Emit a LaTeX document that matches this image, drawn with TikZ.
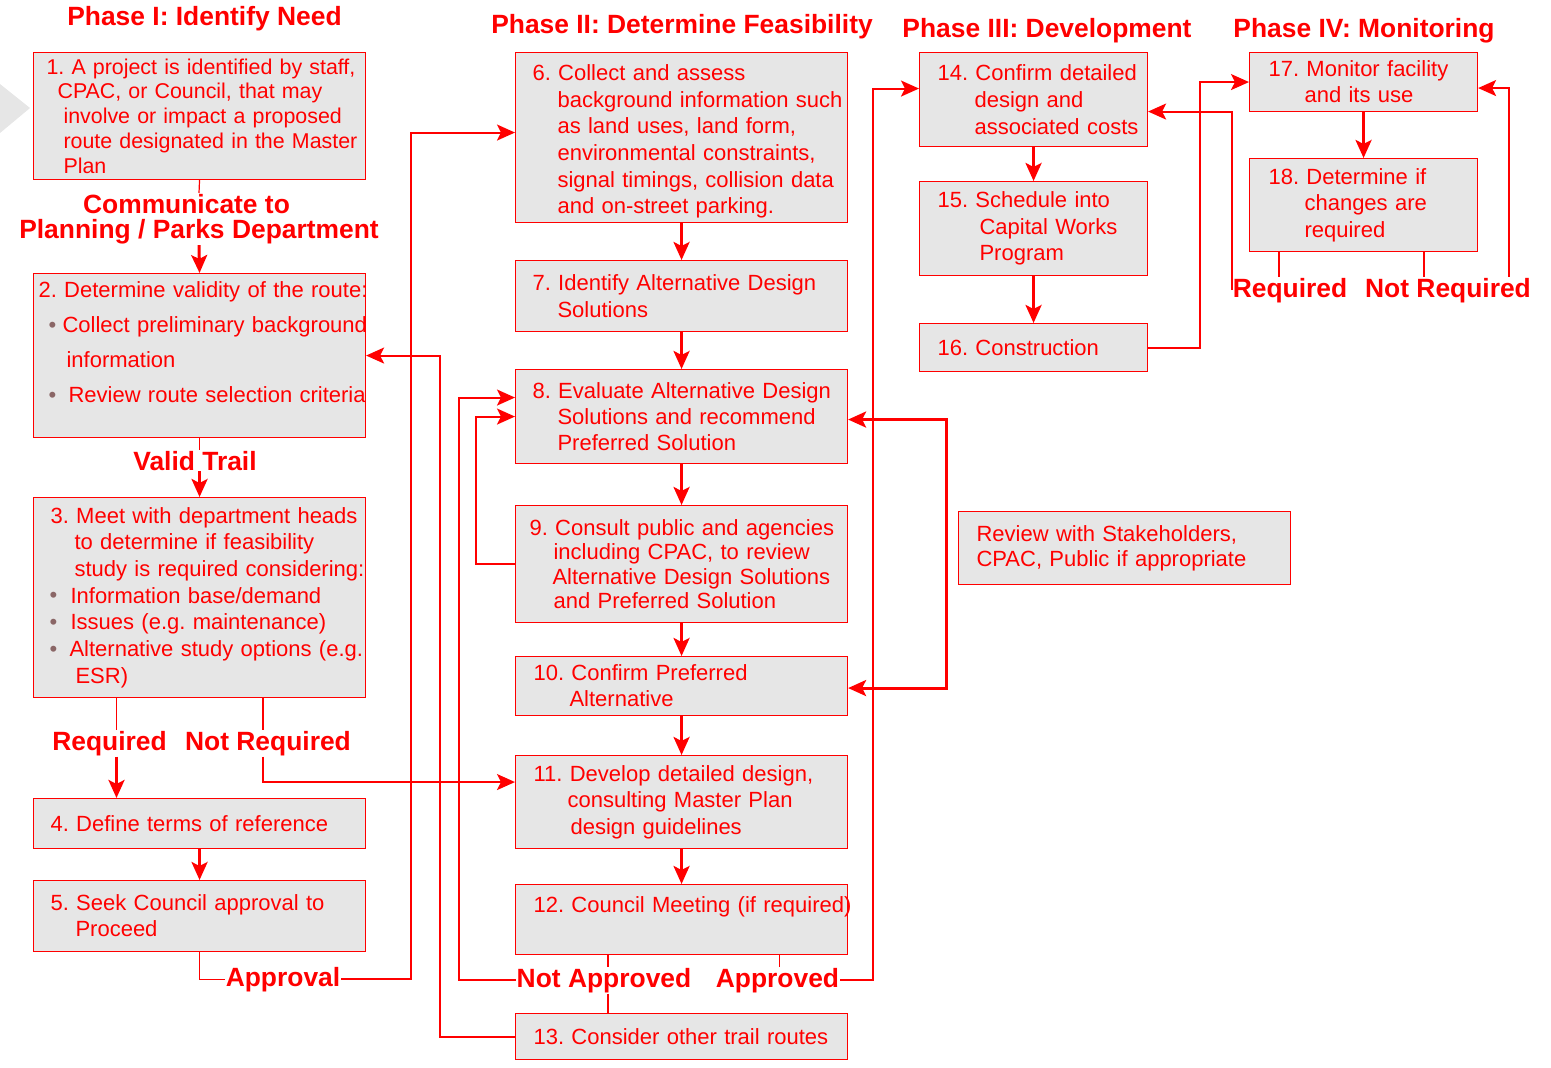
\documentclass[tikz,border=0pt]{standalone}
\usepackage{fontspec}
\setmainfont{Liberation Sans}
\usetikzlibrary{arrows.meta}
\frenchspacing

\definecolor{boxgrey}{HTML}{E6E6E6}
\definecolor{dotgrey}{HTML}{8A6666}

\newcommand\boxfont{\fontsize{22}{26.5}\selectfont}
\newcommand\tagfont{\bfseries\fontsize{26.4}{25}\selectfont}
\newcommand\lpad[1]{\leftskip=#1pt\rightskip=-40pt plus 1fil\relax}
\newcommand\indby[1]{\hspace*{#1pt}}
\newcommand\dotmark{\makebox[6pt]{\raisebox{0.5pt}{\fontsize{22}{22}\selectfont\color{dotgrey}\textbullet}}}
\newcommand\padbelow[1]{\par\nointerlineskip\vspace{#1}\null}

\tikzset{
  stage/.style={draw=red, line width=1.1pt, fill=boxgrey, anchor=north west,
    inner xsep=0pt, inner ysep=2pt, align=left, text=red, font=\boxfont},
  wide/.style={text width=332pt},
  narrow/.style={text width=228pt},
  linegap/.style={font=\fontsize{22}{#1}\selectfont},
  tag/.style={text=red, font=\tagfont, inner sep=1pt, anchor=base},
  link/.style={draw=red, line width=1.2pt},
  feed/.style={draw=red, line width=2pt, ->},
  flow/.style={draw=red, line width=3pt, ->}
}

\begin{document}
\begin{tikzpicture}[x=1pt, y=-1pt, >={Stealth[length=18pt, width=16pt, inset=4pt]}]
\useasboundingbox (0,0) rectangle (1551,1068);
\fill[boxgrey] (0,84) -- (30,108) -- (0,133) -- cycle;

% phase titles
\node[tag] (ph1) at (204.5,25) {Phase I: Identify Need};
\node[tag] (ph2) at (682,33) {Phase II: Determine Feasibility};
\node[tag] (ph3) at (1047,37) {Phase III: Development};
\node[tag] (ph4) at (1364,37) {Phase IV: Monitoring};

% Phase I
\node[stage, wide, minimum height=127pt, font=\fontsize{21.4}{24.8}\selectfont] (s1) at (33,52)
  {\lpad{13}1. A project is identified by staff,\\\indby{11}CPAC, or Council, that may\\\indby{17}involve or impact a proposed\\\indby{17}route designated in the Master\\\indby{17}Plan\par};
\node[stage, wide, minimum height=164pt, linegap=35] (s2) at (33,273)
  {\lpad{5}2. Determine validity of the route:\\\indby{11}\dotmark\hspace{7pt}Collect preliminary background\\\indby{28}information\\\indby{11}\dotmark\hspace{13pt}Review route selection criteria\padbelow{26pt}};
\node[stage, wide, minimum height=200pt, linegap=26.7] (s3) at (33,497)
  {\lpad{17}3. Meet with department heads\\\indby{24}to determine if feasibility\\\indby{24}study is required considering:\\\dotmark\hspace{14pt}Information base/demand\\\dotmark\hspace{14pt}Issues (e.g. maintenance)\\\dotmark\hspace{13pt}Alternative study options (e.g.\\\indby{25}ESR)\par};
\node[stage, wide, minimum height=50pt] (s4) at (33,798)
  {\lpad{17}4. Define terms of reference\par};
\node[stage, wide, minimum height=71pt, linegap=26] (s5) at (33,880)
  {\lpad{17}5. Seek Council approval to\\\indby{25}Proceed\par};

% Phase II
\node[stage, wide, minimum height=170pt, linegap=26.7] (s6) at (515,52)
  {\lpad{17}6. Collect and assess\\\indby{25}background information such\\\indby{25}as land uses, land form,\\\indby{25}environmental constraints,\\\indby{25}signal timings, collision data\\\indby{25}and on-street parking.\padbelow{-8pt}};
\node[stage, wide, minimum height=71pt] (s7) at (515,260)
  {\lpad{17}7. Identify Alternative Design\\\indby{25}Solutions\par};
\node[stage, wide, minimum height=94pt, linegap=26] (s8) at (515,369)
  {\lpad{17}8. Evaluate Alternative Design\\\indby{25}Solutions and recommend\\\indby{25}Preferred Solution\par};
\node[stage, wide, minimum height=117pt, linegap=24.5] (s9) at (515,505)
  {\lpad{14}9. Consult public and agencies\\\indby{24}including CPAC, to review\\\indby{23}Alternative Design Solutions\\\indby{24}and Preferred Solution\par};
\node[stage, wide, minimum height=59pt, linegap=26] (s10) at (515,656)
  {\lpad{18}10. Confirm Preferred\\\indby{36}Alternative\par};
\node[stage, wide, minimum height=93pt] (s11) at (515,755)
  {\lpad{18}11. Develop detailed design,\\\indby{34}consulting Master Plan\\\indby{37}design guidelines\par};
\node[stage, wide, minimum height=70pt] (s12) at (515,884)
  {\lpad{18}12. Council Meeting (if required)\padbelow{26pt}};
\node[stage, wide, minimum height=46pt] (s13) at (515,1013)
  {\lpad{18}13. Consider other trail routes\par};
\node[stage, wide, minimum height=73pt, linegap=25] (rev) at (958,511)
  {\lpad{18}Review with Stakeholders,\\CPAC, Public if appropriate\par};

% Phase III
\node[stage, narrow, minimum height=94pt, linegap=27] (s14) at (919,52)
  {\lpad{18}14. Confirm detailed\\\indby{37}design and\\\indby{37}associated costs\par};
\node[stage, narrow, minimum height=94pt] (s15) at (919,181)
  {\lpad{18}15. Schedule into\\\indby{42}Capital Works\\\indby{42}Program\par};
\node[stage, narrow, minimum height=48pt] (s16) at (919,323)
  {\lpad{18}16. Construction\par};

% Phase IV
\node[stage, narrow, minimum height=59pt, linegap=26] (s17) at (1249,52)
  {\lpad{19}17. Monitor facility\\\indby{36}and its use\par};
\node[stage, narrow, minimum height=93pt] (s18) at (1249,158)
  {\lpad{19}18. Determine if\\\indby{36}changes are\\\indby{36}required\par};

% decision labels
\node[tag, align=center, anchor=north] (comm) at (199,193) {Communicate to\kern25pt\\Planning / Parks Department};
\node[tag] (valid) at (195,470) {Valid Trail};
\node[tag] (req1) at (109.5,750) {Required};
\node[tag] (notreq1) at (268,750) {Not Required};
\node[tag] (approval) at (283,986) {Approval};
\node[tag] (notappr) at (604,987) {Not Approved};
\node[tag] (appr) at (777.5,987) {Approved};
\node[tag] (req2) at (1290,297) {Required};
\node[tag] (notreq2) at (1448,297) {Not Required};

% straight flow
\foreach \a/\b in {s4/s5, s6/s7, s7/s8, s8/s9, s9/s10, s10/s11, s11/s12, s14/s15, s15/s16, s17/s18}
  \draw[flow] (\a.south) -- (\b.north);

\draw[link] (s1.south) -- (comm.north);
\draw[flow] (comm.south) -- (s2.north);
\draw[link] (s2.south) -- (s2.south |- valid.north);
\draw[flow] (s3.north |- valid.south) -- (s3.north);

\draw[link] ([xshift=7pt]req1.north |- s3.south) -- ([xshift=7pt]req1.north);
\draw[flow] ([xshift=7pt]req1.south) -- ([xshift=7pt]req1.south |- s4.north);
\draw[link] ([xshift=-5pt]notreq1.north |- s3.south) -- ([xshift=-5pt]notreq1.north);
\draw[feed] ([xshift=-5pt]notreq1.south) |- ([yshift=20pt]s11.west);

\draw[link] (s5.south) |- (approval.west);
\draw[feed] (approval.east) -- ++(70,0) |- ([yshift=5pt]s6.west);

% loops back
\draw[feed] (s9.west) -- ++(-39,0) |- (s8.west);
\draw[link] ([xshift=4pt]notappr.north |- s12.south) -- ([xshift=4pt]notappr.north);
\draw[link] ([xshift=4pt]notappr.south) -- ([xshift=4pt]notappr.south |- s13.north);
\draw[feed] (notappr.west) -- ++(-57,0) |- ([yshift=19pt]s8.west);
\draw[link] ([xshift=2pt]appr.north |- s12.south) -- ([xshift=2pt]appr.north);
\draw[feed] (appr.east) -- ++(33,0) |- ([yshift=11pt]s14.west);
\draw[feed] (s13.west) -- ++(-75,0) |- (s2.east);
\draw[flow, <->] ([yshift=-3pt]s8.east) -- ++(98,0) |- ([yshift=-2pt]s10.east);

% Phase III to IV
\draw[feed] (s16.east) -- ++(52,0) |- (s17.west);
\draw[link] ([xshift=-11pt]req2.north |- s18.south) -- ([xshift=-11pt]req2.north);
\draw[feed] (req2.west) |- ([yshift=-12pt]s14.east);
\draw[link] ([xshift=-24pt]notreq2.north |- s18.south) -- ([xshift=-24pt]notreq2.north);
\draw[feed] ([xshift=-23pt]notreq2.north east) |- ([yshift=-6pt]s17.east);
\end{tikzpicture}
\end{document}
